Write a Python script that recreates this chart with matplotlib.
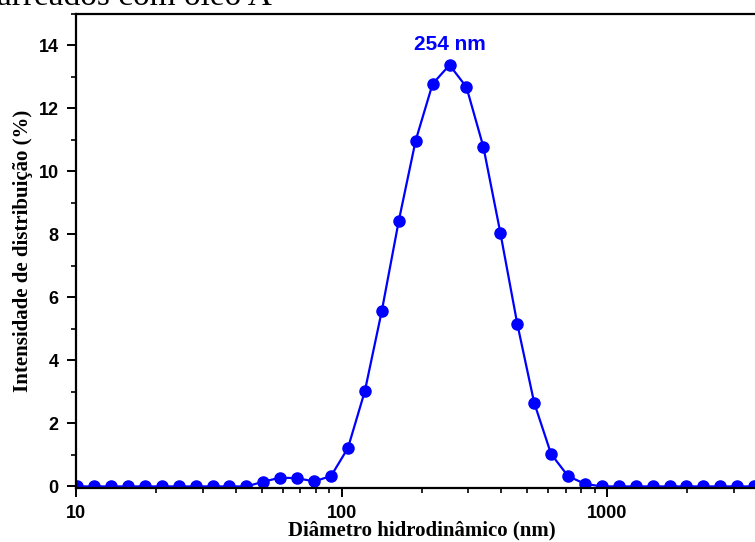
import matplotlib
matplotlib.use("Agg")
import matplotlib.pyplot as plt
from matplotlib.ticker import LogLocator, MultipleLocator, NullFormatter

# bins do Zetasizer (nm) e intensidade (%)
diametro = [10.10, 11.70, 13.54, 15.69, 18.17, 21.04, 24.36, 28.21, 32.67, 37.84,
            43.82, 50.75, 58.77, 68.06, 78.82, 91.28, 105.7, 122.4, 141.8, 164.2,
            190.1, 220.2, 255.0, 295.3, 342.0, 396.1, 458.7, 531.2, 615.1, 712.4,
            825.0, 955.4, 1106, 1281, 1484, 1718, 1990, 2305, 2669, 3091, 3580]
intensidade = [0, 0, 0, 0, 0, 0, 0, 0, 0, 0,
               0, 0.15, 0.28, 0.26, 0.16, 0.33, 1.22, 3.03, 5.58, 8.43,
               10.98, 12.78, 13.38, 12.68, 10.78, 8.06, 5.17, 2.66, 1.03, 0.33,
               0.08, 0, 0, 0, 0, 0, 0, 0, 0, 0, 0]
pico = "254 nm"
xlabel = "Diâmetro hidrodinâmico (nm)"
ylabel = "Intensidade de distribuição (%)"
titulo = "arreados com óleo A"

fig = plt.figure(figsize=(7.55, 5.42), dpi=100)
ax = fig.add_axes([76/755, 54/542, 691/755, 474/542])

ax.plot(diametro, intensidade, color="#0000ff", lw=1.6, marker="o", ms=8)
ax.set_xscale("log")
ax.set_xlim(10, 4000)
ax.set_ylim(-0.05, 15)

ax.yaxis.set_major_locator(MultipleLocator(2))
ax.yaxis.set_minor_locator(MultipleLocator(1))
ax.xaxis.set_major_locator(LogLocator(base=10))
ax.xaxis.set_minor_locator(LogLocator(base=10, subs=range(2, 10)))
ax.xaxis.set_minor_formatter(NullFormatter())
ax.set_xticks([10, 100, 1000])
ax.set_xticklabels(["10", "100", "1000"])

for s in ax.spines.values():
    s.set_linewidth(1.6)
ax.tick_params(which="major", length=6.5, width=1.4, direction="out", pad=6)
ax.tick_params(which="minor", length=3.5, width=1.2, direction="out")
for lab in ax.get_xticklabels() + ax.get_yticklabels():
    lab.set_fontfamily("Liberation Sans")
    lab.set_fontweight("bold")
    lab.set_fontsize(13)

ax.set_xlabel(xlabel, family="Liberation Serif", weight="bold", fontsize=15, labelpad=-1)
ax.set_ylabel(ylabel, family="Liberation Serif", weight="bold", fontsize=15, labelpad=4)

ax.text(255, 13.87, pico, color="#0000ff", family="Liberation Sans", weight="bold",
        fontsize=15, ha="center", va="baseline")

fig.text(-0.004, 1 - 5/542, titulo, family="Liberation Serif", fontsize=24,
         ha="left", va="baseline")

fig.savefig("out.png", dpi=100)
